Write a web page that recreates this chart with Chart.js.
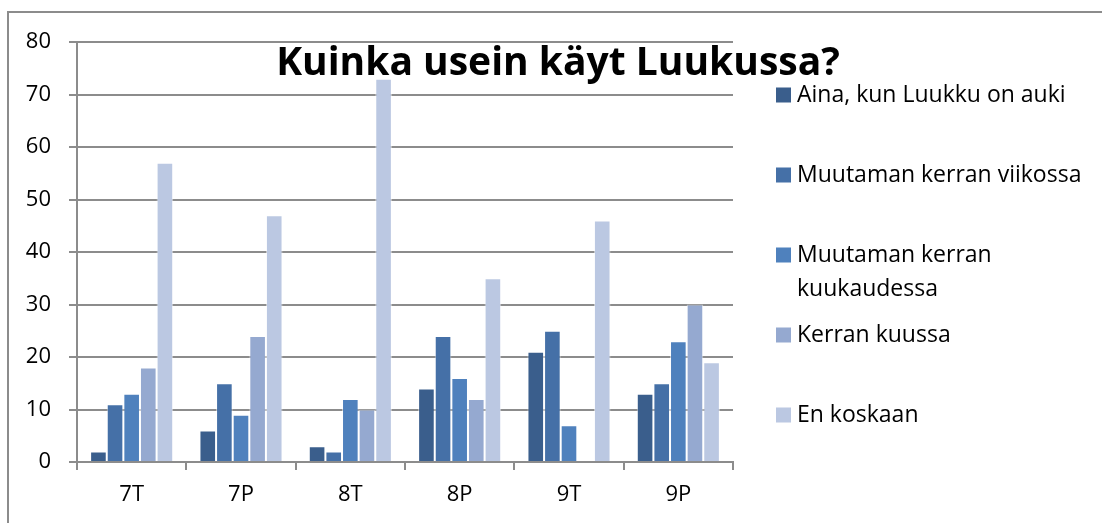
<!DOCTYPE html>
<html>
<head>
<meta charset="utf-8">
<script src="https://cdn.jsdelivr.net/npm/chart.js@4"></script>
<style>
  html, body { margin: 0; padding: 0; background: #fff; }
  #wrap { position: relative; width: 1102px; height: 523px; }
</style>
</head>
<body>
<div id="wrap"><canvas id="c" width="1102" height="523"></canvas></div>
<script>
const chartTitle = "Kuinka usein käyt Luukussa?";
const categories = ["7T", "7P", "8T", "8P", "9T", "9P"];
const seriesLabels = [
  "Aina, kun Luukku on auki",
  "Muutaman kerran viikossa",
  "Muutaman kerran kuukaudessa",
  "Kerran kuussa",
  "En koskaan"
];
const ainaValues      = [2, 6, 3, 14, 21, 13];
const viikossaValues  = [11, 15, 2, 24, 25, 15];
const kuukaudValues   = [13, 9, 12, 16, 7, 23];
const kuussaValues    = [18, 24, 10, 12, 0, 30];
const koskaanValues   = [57, 47, 73, 35, 46, 19];
const yTicks = [0, 10, 20, 30, 40, 50, 60, 70, 80];

const seriesColors = ["#3A5E8C", "#4570A7", "#4F81BD", "#95A9D0", "#BBC8E2"];
const seriesValues = [ainaValues, viikossaValues, kuukaudValues, kuussaValues, koskaanValues];

const FONT = "'Open Sans', Lato, sans-serif";
const TITLE_FONT = "'Open Sans', Lato, sans-serif";
const GRID = "#8c8c8c";

const framePlugin = {
  id: 'frame',
  beforeDraw(chart) {
    const ctx = chart.ctx;
    ctx.save();
    ctx.fillStyle = '#fff';
    ctx.fillRect(0, 0, chart.width, chart.height);
    ctx.strokeStyle = GRID;
    ctx.lineWidth = 2;
    ctx.beginPath();
    ctx.moveTo(8, chart.height);
    ctx.lineTo(8, 12);
    ctx.lineTo(chart.width, 12);
    ctx.stroke();
    ctx.restore();
  }
};

const overlayPlugin = {
  id: 'overlay',
  afterDraw(chart) {
    const ctx = chart.ctx;
    ctx.save();
    // Title
    ctx.fillStyle = '#000';
    ctx.font = "bold 39px " + TITLE_FONT;
    ctx.textAlign = 'center';
    ctx.textBaseline = 'alphabetic';
    ctx.fillText(chartTitle, 558, 75);
    // Legend
    const lx = 776, tx = 797, maxW = 292, lineH = 34;
    ctx.font = "23px " + FONT;
    ctx.textAlign = 'left';
    ctx.textBaseline = 'middle';
    chart.data.datasets.forEach((ds, i) => {
      const cy = 95 + i * 80;
      ctx.fillStyle = ds.backgroundColor;
      ctx.fillRect(lx, cy - 7.5, 15, 15);
      ctx.fillStyle = '#000';
      const words = ds.label.split(' ');
      const lines = [];
      let cur = '';
      words.forEach(w => {
        const t = cur ? cur + ' ' + w : w;
        if (ctx.measureText(t).width > maxW && cur) { lines.push(cur); cur = w; }
        else cur = t;
      });
      lines.push(cur);
      lines.forEach((ln, k) => ctx.fillText(ln, tx, cy + k * lineH));
    });
    ctx.restore();
  }
};

new Chart(document.getElementById('c'), {
  type: 'bar',
  data: {
    labels: categories,
    datasets: seriesLabels.map((lab, i) => ({
      label: lab,
      data: seriesValues[i],
      backgroundColor: seriesColors[i],
      borderColor: 'rgba(255,255,255,0.55)',
      borderWidth: 1,
      categoryPercentage: 0.76,
      barPercentage: 1.0
    }))
  },
  options: {
    responsive: false,
    devicePixelRatio: 1,
    animation: false,
    layout: { padding: { left: 0, top: 42, right: 369, bottom: 0 } },
    plugins: {
      legend: { display: false },
      title: { display: false },
      tooltip: { enabled: false }
    },
    scales: {
      x: {
        grid: { display: true, drawOnChartArea: false, drawTicks: true, tickLength: 8, color: GRID, lineWidth: 2, offset: true },
        border: { display: true, color: GRID, width: 2 },
        ticks: { color: '#000', font: { family: FONT, size: 22 }, padding: 12 },
        afterFit(s) { s.height = 61; }
      },
      y: {
        min: 0, max: 80,
        afterBuildTicks(s) { s.ticks = yTicks.map(v => ({ value: v })); },
        grid: { color: GRID, lineWidth: 2, drawTicks: true, tickLength: 8 },
        border: { display: true, color: GRID, width: 2 },
        ticks: { color: '#000', font: { family: FONT, size: 22 }, padding: 18 },
        afterFit(s) { s.width = 77; }
      }
    }
  },
  plugins: [framePlugin, overlayPlugin]
});
</script>
</body>
</html>
